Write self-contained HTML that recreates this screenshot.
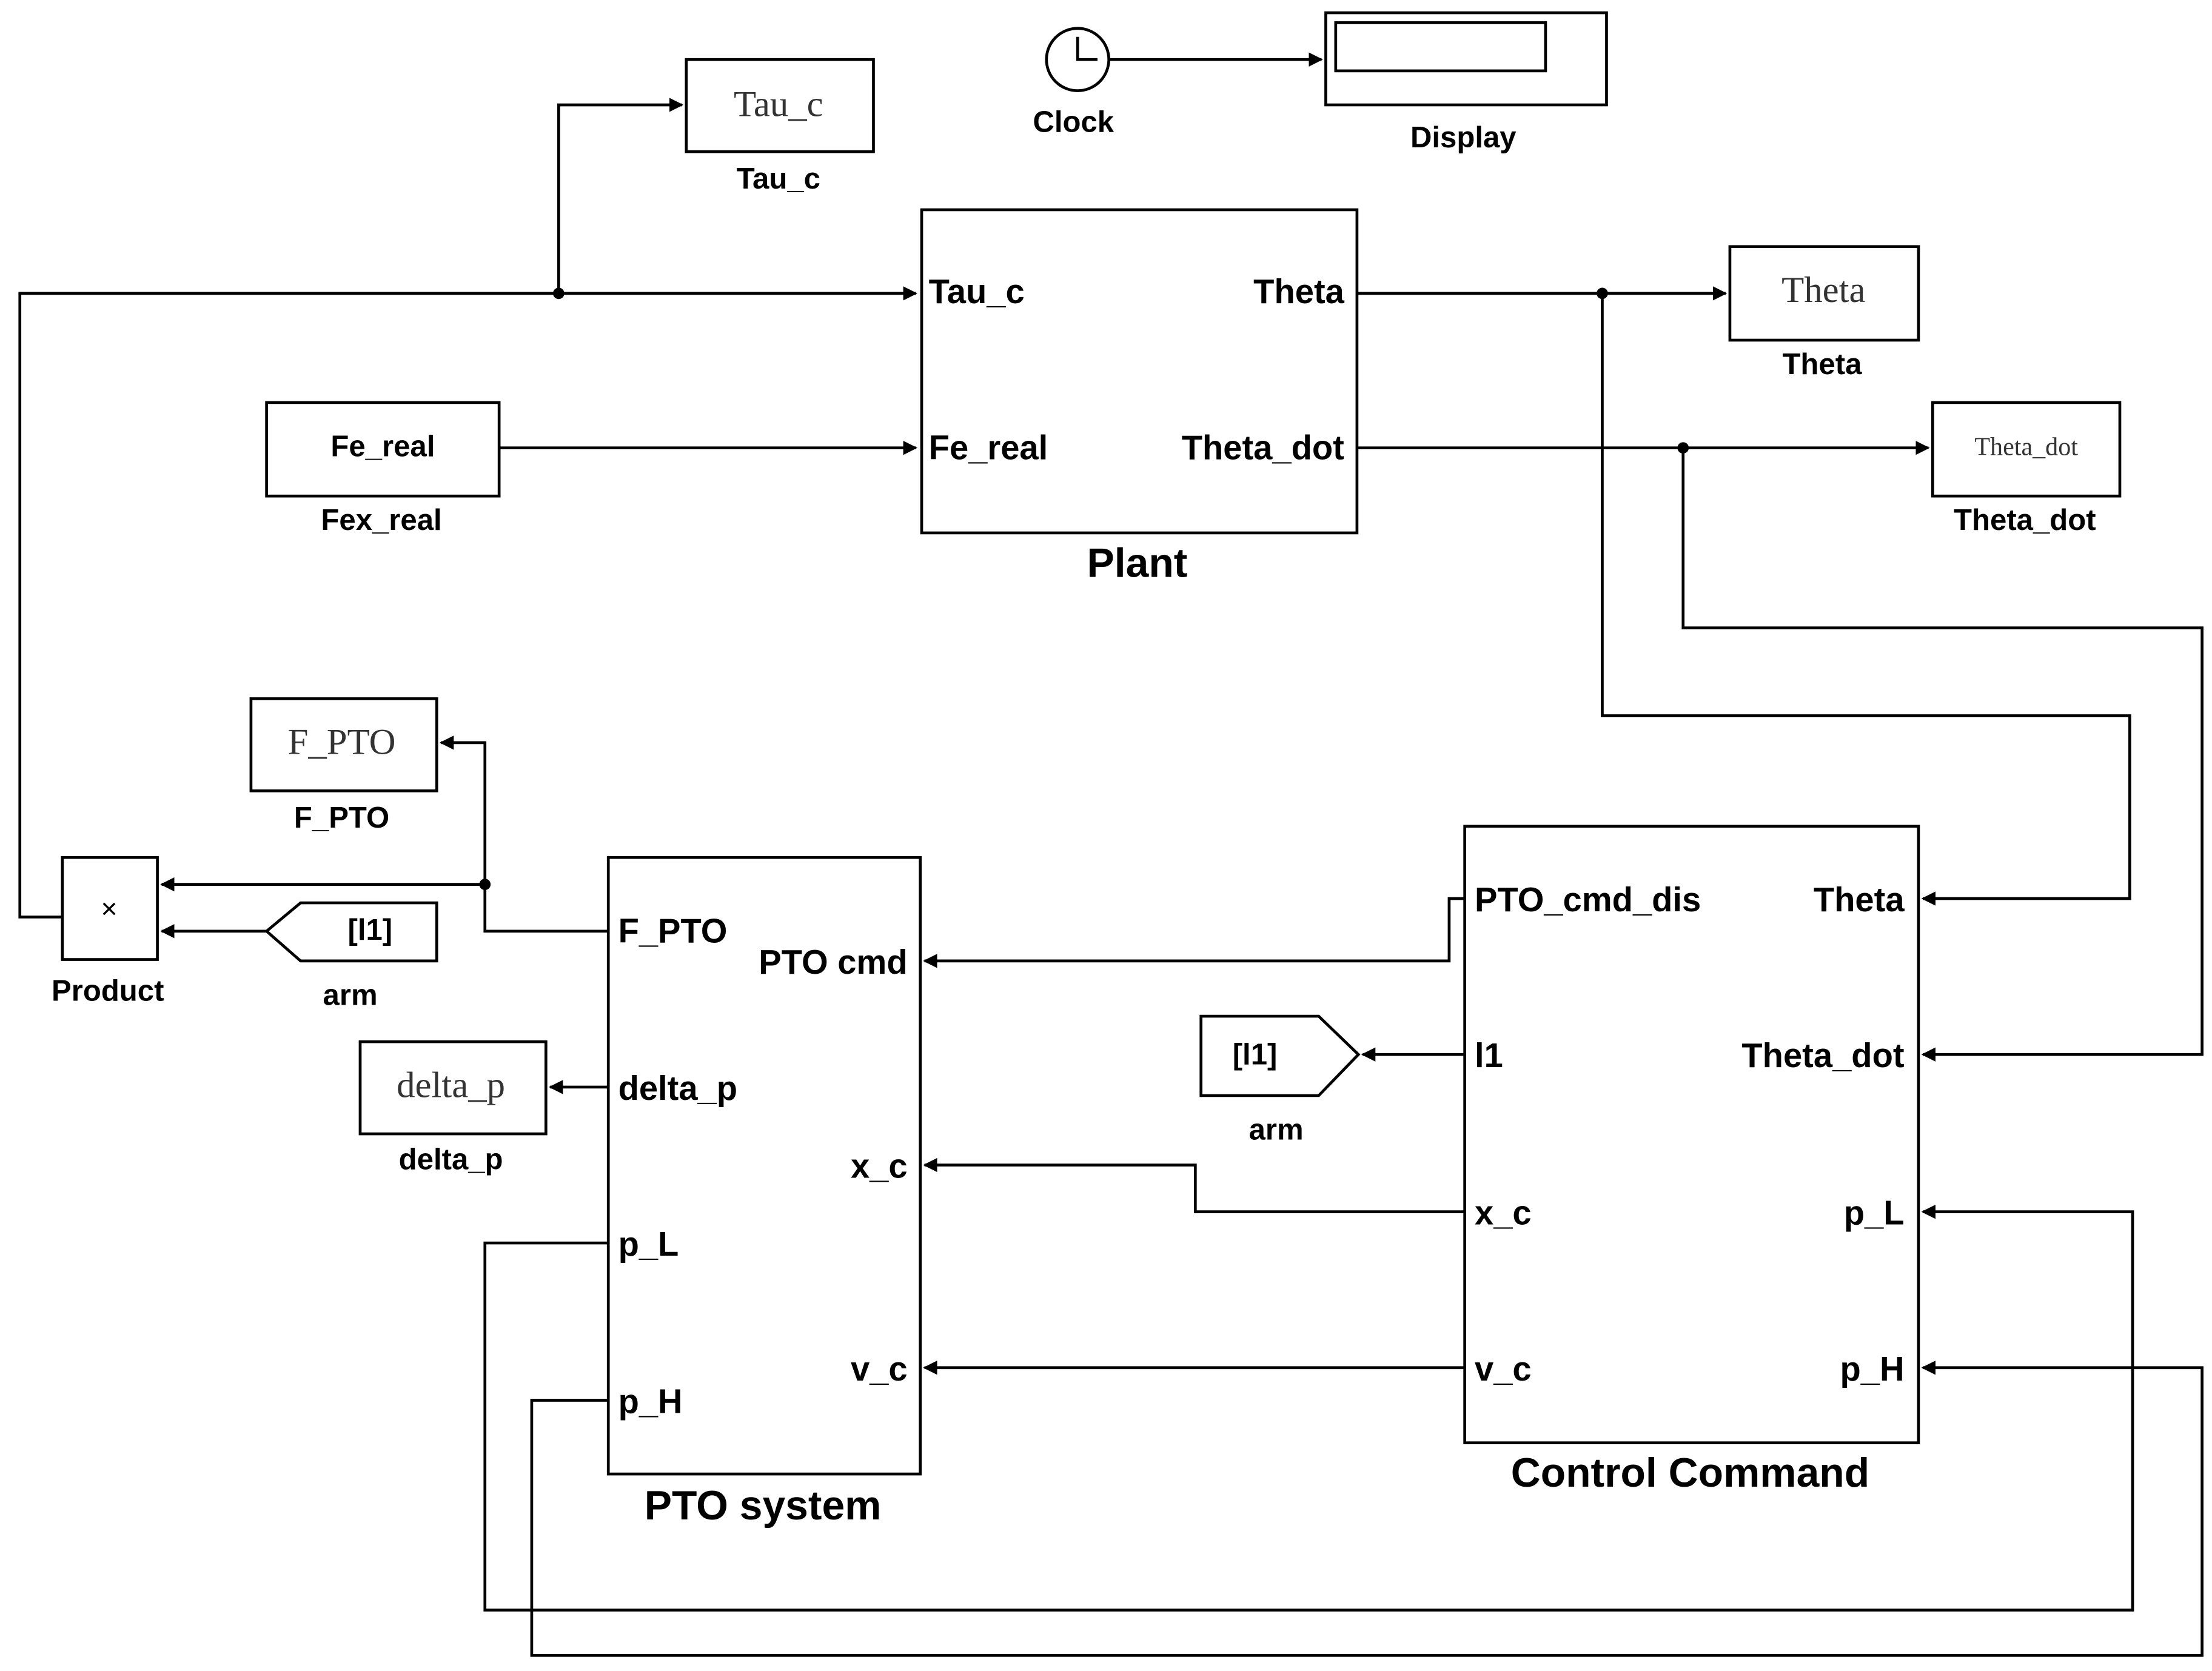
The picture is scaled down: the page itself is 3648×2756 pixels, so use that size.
<!DOCTYPE html>
<html><head><meta charset="utf-8"><style>
html,body{margin:0;padding:0;background:#fff;}
svg{display:block;}
text{font-family:"Liberation Sans",sans-serif;fill:#000;}
.b{font-weight:bold;font-size:21px;}
.p{font-weight:bold;font-size:24px;}
.t{font-weight:bold;font-size:29px;}
.s{font-family:"Liberation Serif",serif;font-size:26px;fill:#333;}
</style></head><body>
<svg width="3648" height="2756" viewBox="0 0 1560 1179" preserveAspectRatio="none" xmlns="http://www.w3.org/2000/svg">
<defs><marker id="a" markerWidth="10" markerHeight="10" refX="9" refY="5" orient="auto" markerUnits="userSpaceOnUse"><path d="M0,0 L10,5 L0,10 z" fill="#000"/></marker></defs>
<g fill="none" stroke="#000" stroke-width="2">
<!-- blocks -->
<rect x="484" y="42" width="132" height="65"/>
<circle cx="760" cy="42" r="22"/>
<path d="M760,26 V42 H774"/>
<rect x="935" y="9" width="198" height="65"/>
<rect x="942" y="16" width="148" height="34"/>
<rect x="650" y="148" width="307" height="228"/>
<rect x="188" y="284" width="164" height="66"/>
<rect x="1220" y="174" width="133" height="66"/>
<rect x="1363" y="284" width="132" height="66"/>
<rect x="1033" y="583" width="320" height="435"/>
<rect x="429" y="605" width="220" height="435"/>
<rect x="177" y="493" width="131" height="65"/>
<rect x="44" y="605" width="67" height="72"/>
<rect x="254" y="735" width="131" height="65"/>
<path d="M847,717 H930 L958,744 L930,773 H847 Z"/>
<path d="M188,657 L212,637 H308 V678 H212 Z"/>
<!-- lines -->
<path d="M782,42 H932" marker-end="url(#a)"/>
<path d="M44,647 H14 V207 H646" marker-end="url(#a)"/>
<path d="M394,207 V74 H481" marker-end="url(#a)"/>
<path d="M352,316 H646" marker-end="url(#a)"/>
<path d="M957,207 H1217" marker-end="url(#a)"/>
<path d="M957,316 H1360" marker-end="url(#a)"/>
<path d="M1130,207 V505 H1502 V634 H1356" marker-end="url(#a)"/>
<path d="M1187,316 V443 H1553 V744 H1356" marker-end="url(#a)"/>
<path d="M1033,634 H1022 V678 H652" marker-end="url(#a)"/>
<path d="M1033,855 H843 V822 H652" marker-end="url(#a)"/>
<path d="M1033,965 H652" marker-end="url(#a)"/>
<path d="M1033,744 H961" marker-end="url(#a)"/>
<path d="M429,657 H342 V624 H114" marker-end="url(#a)"/>
<path d="M342,624 V524 H311" marker-end="url(#a)"/>
<path d="M188,657 H114" marker-end="url(#a)"/>
<path d="M429,767 H388" marker-end="url(#a)"/>
<path d="M429,877 H342 V1136 H1504 V855 H1356" marker-end="url(#a)"/>
<path d="M429,988 H375 V1168 H1553 V965 H1356" marker-end="url(#a)"/>
</g>
<g fill="#000"><circle cx="394" cy="207" r="4"/><circle cx="1130" cy="207" r="4"/><circle cx="1187" cy="316" r="4"/><circle cx="342" cy="624" r="4"/></g>
<!-- text -->
<text class="s" x="549" y="82" text-anchor="middle">Tau_c</text>
<text class="b" x="549" y="133" text-anchor="middle">Tau_c</text>
<text class="b" x="757" y="93" text-anchor="middle">Clock</text>
<text class="b" x="1032" y="104" text-anchor="middle">Display</text>
<text class="p" x="655" y="214">Tau_c</text>
<text class="p" x="948" y="214" text-anchor="end">Theta</text>
<text class="p" x="655" y="324">Fe_real</text>
<text class="p" x="948" y="324" text-anchor="end">Theta_dot</text>
<text class="t" x="802" y="407" text-anchor="middle">Plant</text>
<text class="b" x="270" y="322" text-anchor="middle">Fe_real</text>
<text class="b" x="269" y="374" text-anchor="middle">Fex_real</text>
<text class="s" x="1286" y="213" text-anchor="middle">Theta</text>
<text class="b" x="1285" y="264" text-anchor="middle">Theta</text>
<text class="s" x="1429" y="321" text-anchor="middle" style="font-size:18px">Theta_dot</text>
<text class="b" x="1428" y="374" text-anchor="middle">Theta_dot</text>
<text class="s" x="241" y="532" text-anchor="middle">F_PTO</text>
<text class="b" x="241" y="584" text-anchor="middle">F_PTO</text>
<text x="77" y="648" text-anchor="middle" style="font-size:20px">×</text>
<text class="b" x="76" y="706" text-anchor="middle">Product</text>
<text class="b" x="261" y="663" text-anchor="middle">[l1]</text>
<text class="b" x="247" y="709" text-anchor="middle">arm</text>
<text class="s" x="318" y="774" text-anchor="middle">delta_p</text>
<text class="b" x="318" y="825" text-anchor="middle">delta_p</text>
<text class="b" x="885" y="751" text-anchor="middle">[l1]</text>
<text class="b" x="900" y="804" text-anchor="middle">arm</text>
<text class="p" x="436" y="665">F_PTO</text>
<text class="p" x="436" y="776">delta_p</text>
<text class="p" x="436" y="886">p_L</text>
<text class="p" x="436" y="997">p_H</text>
<text class="p" x="640" y="687" text-anchor="end">PTO cmd</text>
<text class="p" x="640" y="831" text-anchor="end">x_c</text>
<text class="p" x="640" y="974" text-anchor="end">v_c</text>
<text class="t" x="538" y="1072" text-anchor="middle">PTO system</text>
<text class="p" x="1040" y="643">PTO_cmd_dis</text>
<text class="p" x="1040" y="753">l1</text>
<text class="p" x="1040" y="864">x_c</text>
<text class="p" x="1040" y="974">v_c</text>
<text class="p" x="1343" y="643" text-anchor="end">Theta</text>
<text class="p" x="1343" y="753" text-anchor="end">Theta_dot</text>
<text class="p" x="1343" y="864" text-anchor="end">p_L</text>
<text class="p" x="1343" y="974" text-anchor="end">p_H</text>
<text class="t" x="1192" y="1049" text-anchor="middle">Control Command</text>
</svg>
</body></html>
